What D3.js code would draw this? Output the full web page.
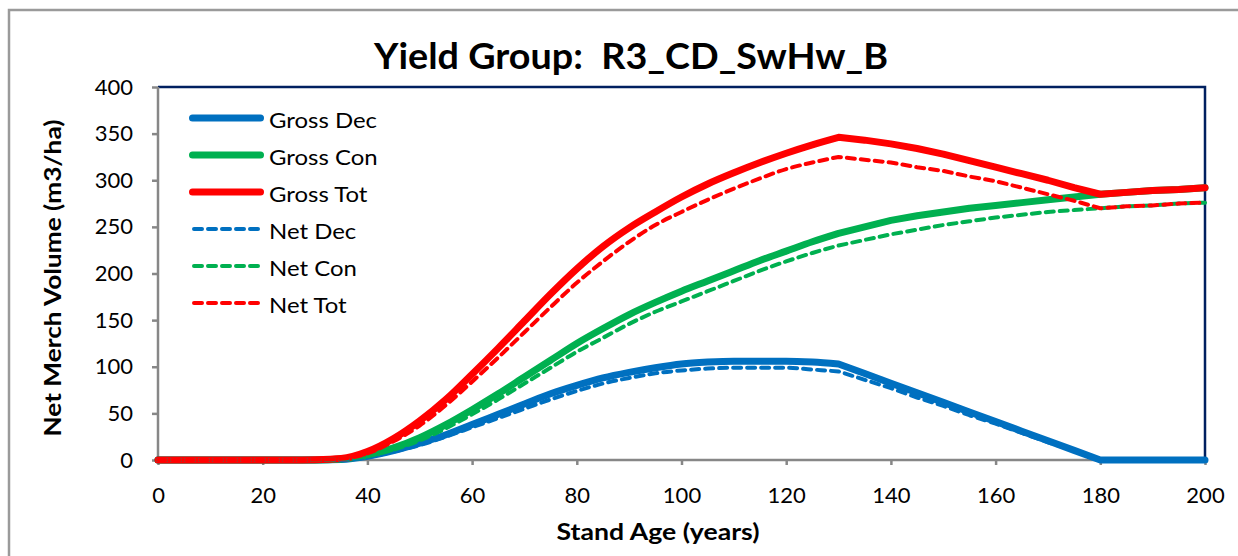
<!DOCTYPE html>
<html>
<head>
<meta charset="utf-8">
<script src="https://cdn.jsdelivr.net/npm/d3@7"></script>
<style>
  html, body { margin: 0; padding: 0; background: #fff; }
  svg { display: block; }
  text { font-family: Lato, "Open Sans", sans-serif; fill: #000; white-space: pre; }
</style>
</head>
<body>
<svg id="chart" width="1238" height="556"></svg>
<script>
const chartTitle = "Yield Group:  R3_CD_SwHw_B";
const xTitle = "Stand Age (years)";
const yTitle = "Net Merch Volume (m3/ha)";
const xTicks = [0, 20, 40, 60, 80, 100, 120, 140, 160, 180, 200];
const yTicks = [0, 50, 100, 150, 200, 250, 300, 350, 400];

const ages = [0,5,10,15,20,25,30,35,40,45,50,55,60,65,70,75,80,85,90,95,100,105,110,115,120,125,130,135,140,145,150,155,160,165,170,175,180,185,190,195,200];

const grossDec = [0,0,0,0,0,0,0,0.5,4,10,18,27,38,49,60,71,80,88,94,99,103,105,106,106,106,105,103,92.7,82.4,72.1,61.8,51.5,41.2,30.9,20.6,10.3,0,0,0,0,0];
const grossCon = [0,0,0,0,0,0,0,1,5,13,24,38,54,71,89,107,125,141,156,169,181,192,203,214,224,234,243,250,257,262,266,270,273,276,279,282,285,287,289,290,292];
const grossTot = [0,0,0,0,0,0,0.3,1.5,9,23,42,65,92,120,149,178,205,229,249,266,282,296,308,319,329,338,346,343,339,334,328,321,314,307,300,292,285,287,289,290,292];
const netDec = [0,0,0,0,0,0,0,0.3,3,9,16,25,35,45,55,65,74,82,88,93,96,98,99,99,99,97,95,86,77,67,58,48,39,29,19,10,0,0,0,0,0];
const netCon = [0,0,0,0,0,0,0,1,4,11,21,34,49,65,82,99,116,131,146,159,170,181,192,203,213,222,230,236,242,247,252,256,260,263,266,268,270,272,273,275,276];
const netTot = [0,0,0,0,0,0,0.2,1.3,7,20,37,59,84,110,137,164,190,213,234,252,266,279,291,302,312,319,325,322,319,314,310,304,299,292,285,278,270,272,273,275,276];

const seriesNames = ["Gross Dec", "Gross Con", "Gross Tot", "Net Dec", "Net Con", "Net Tot"];
const seriesValues = [grossDec, grossCon, grossTot, netDec, netCon, netTot];
const seriesColors = ["#0070C0", "#00B050", "#FF0000", "#0070C0", "#00B050", "#FF0000"];
const seriesDashed = [false, false, false, true, true, true];
const growthEndAge = 130;

const svg = d3.select("#chart");
const margin = { left: 158, right: 1205, top: 87, bottom: 460 };

const x = d3.scaleLinear().domain([0, 200]).range([margin.left, margin.right]);
const y = d3.scaleLinear().domain([0, 400]).range([margin.bottom, margin.top]);

// outer chart border
svg.append("rect")
  .attr("x", 9).attr("y", 10).attr("width", 1260).attr("height", 600)
  .attr("fill", "none").attr("stroke", "#9a9a9a").attr("stroke-width", 2.5);

// plot area frame (top & right navy)
svg.append("path")
  .attr("d", `M${margin.left},${margin.top}H${margin.right}V${margin.bottom}`)
  .attr("fill", "none").attr("stroke", "#002060").attr("stroke-width", 2.5);

// axes
const xAxis = d3.axisBottom(x).tickValues(xTicks).tickSize(5).tickPadding(22).tickFormat(d3.format("d"));
const yAxis = d3.axisLeft(y).tickValues(yTicks).tickSize(6).tickPadding(19).tickFormat(d3.format("d"));

const gx = svg.append("g").attr("transform", `translate(0,${margin.bottom})`).call(xAxis);
const gy = svg.append("g").attr("transform", `translate(${margin.left},0)`).call(yAxis);
[gx, gy].forEach(g => {
  g.select(".domain").attr("stroke", "#878787").attr("stroke-width", 2.5);
  g.selectAll(".tick line").attr("stroke", "#878787").attr("stroke-width", 2.5);
  g.selectAll(".tick text").style("font-family", "Lato, 'Open Sans', sans-serif").style("font-size", "22px").attr("fill", "#000");
});
gy.select(".domain").attr("d", `M0,${margin.bottom}V${margin.top}`);
gx.select(".domain").attr("d", `M${margin.left},0H${margin.right}`);

// lines: smooth growth phase, straight segments after it (sharp kinks at 130 and 180)
const smoothLine = d3.line().x(d => x(d[0])).y(d => y(d[1])).curve(d3.curveMonotoneX);
const straightLine = d3.line().x(d => x(d[0])).y(d => y(d[1]));
seriesValues.forEach((vals, i) => {
  const pts = vals.map((v, k) => [ages[k], v]);
  const p1 = pts.filter(p => p[0] <= growthEndAge);
  const p2 = pts.filter(p => p[0] >= growthEndAge);
  const d = smoothLine(p1) + straightLine(p2).replace(/^M/, "L");
  svg.append("path")
    .attr("d", d)
    .attr("fill", "none")
    .attr("stroke", seriesColors[i])
    .attr("stroke-width", seriesDashed[i] ? 4 : 7)
    .attr("stroke-linecap", "round")
    .attr("stroke-linejoin", "round")
    .attr("stroke-dasharray", seriesDashed[i] ? "8,6" : null);
});

// legend
const legend = svg.append("g");
seriesNames.forEach((name, i) => {
  const ly = 118 + i * 37;
  legend.append("line")
    .attr("x1", seriesDashed[i] ? 194 : 192.5).attr("x2", 260.5).attr("y1", ly).attr("y2", ly)
    .attr("stroke", seriesColors[i])
    .attr("stroke-width", seriesDashed[i] ? 4 : 7)
    .attr("stroke-linecap", "round")
    .attr("stroke-dasharray", seriesDashed[i] ? "8,6" : null);
  legend.append("text")
    .attr("transform", `translate(269,${ly + 10}) scale(1.14,1)`)
    .style("font-size", "21px")
    .text(name);
});

// titles
svg.append("text")
  .attr("x", 631).attr("y", 69)
  .attr("text-anchor", "middle")
  .attr("textLength", 514).attr("lengthAdjust", "spacingAndGlyphs")
  .style("font-size", "36px").style("font-weight", "bold")
  .text(chartTitle);

svg.append("text")
  .attr("x", 658).attr("y", 540)
  .attr("text-anchor", "middle")
  .attr("textLength", 203).attr("lengthAdjust", "spacingAndGlyphs")
  .style("font-size", "22px").style("font-weight", "bold")
  .text(xTitle);

svg.append("text")
  .attr("transform", "translate(61,278) rotate(-90)")
  .attr("text-anchor", "middle")
  .attr("textLength", 317).attr("lengthAdjust", "spacingAndGlyphs")
  .style("font-size", "22px").style("font-weight", "bold")
  .text(yTitle);
</script>
</body>
</html>
